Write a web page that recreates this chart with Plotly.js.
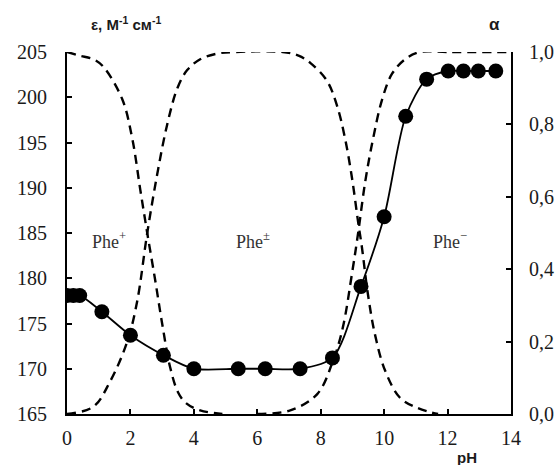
<!DOCTYPE html>
<html>
<head>
<meta charset="utf-8">
<script src="https://cdn.plot.ly/plotly-3.0.1.min.js"></script>
<style>html,body{margin:0;padding:0;background:#fff;}#chart{width:559px;height:465px;}</style>
</head>
<body>
<div id="chart"></div>
<script>
// Measured extinction coefficient vs pH
const pH = [0, 0.2, 0.4, 1.1, 2.0, 3.04, 4.0, 5.4, 6.25, 7.35, 8.37, 9.27, 10.0, 10.68, 11.34, 12.02, 12.5, 12.97, 13.52];
const epsilon = [178.1, 178.1, 178.1, 176.3, 173.7, 171.5, 170.0, 170.0, 170.0, 170.0, 171.2, 179.1, 186.8, 197.9, 202.0, 202.9, 202.9, 202.9, 202.9];

// Fractions of species
const pHPlus = [0, 0.4, 0.83, 1.14, 1.74, 2.06, 2.31, 2.53, 2.78, 3.0, 3.25, 3.5, 3.75, 4.2, 4.9];
const alphaPlus = [1.0, 0.99, 0.98, 0.96, 0.87, 0.76, 0.62, 0.5, 0.37, 0.25, 0.13, 0.06, 0.03, 0.01, 0.0];

const pHZwit = [0, 0.83, 1.36, 1.9, 2.21, 2.53, 2.84, 3.16, 3.48, 3.79, 4.2, 4.7, 5.3, 6.8, 7.3, 7.67, 8.2, 8.52, 8.77, 8.99, 9.18, 9.3, 9.49, 9.71, 10.03, 10.5, 11.04, 11.7];
const alphaZwit = [0.0, 0.02, 0.09, 0.2, 0.31, 0.5, 0.66, 0.8, 0.9, 0.95, 0.98, 0.995, 1.0, 1.0, 0.99, 0.97, 0.92, 0.85, 0.76, 0.65, 0.53, 0.46, 0.33, 0.22, 0.12, 0.045, 0.017, 0.0];

const pHMinus = [6.0, 7.04, 7.89, 8.4, 8.7, 8.99, 9.18, 9.4, 9.65, 9.94, 10.25, 10.66, 11.13, 12.0, 14.0];
const alphaMinus = [0.0, 0.01, 0.055, 0.15, 0.24, 0.39, 0.5, 0.64, 0.76, 0.87, 0.94, 0.98, 1.0, 1.0, 1.0];

const xTicks = [0, 2, 4, 6, 8, 10, 12, 14];
const yTicks = [165, 170, 175, 180, 185, 190, 195, 200, 205];
const y2Ticks = [0, 0.2, 0.4, 0.6, 0.8, 1.0];
const y2TickText = ['0,0', '0,2', '0,4', '0,6', '0,8', '1,0'];

const dashStyle = {color: '#000', width: 2.4, dash: '9px,6px', shape: 'spline', smoothing: 1};

const traces = [
  {x: pHPlus, y: alphaPlus, yaxis: 'y2', mode: 'lines', line: dashStyle, hoverinfo: 'skip'},
  {x: pHZwit, y: alphaZwit, yaxis: 'y2', mode: 'lines', line: dashStyle, hoverinfo: 'skip'},
  {x: pHMinus, y: alphaMinus, yaxis: 'y2', mode: 'lines', line: dashStyle, hoverinfo: 'skip'},
  {x: pH, y: epsilon, yaxis: 'y', mode: 'lines+markers',
   line: {color: '#000', width: 1.8, shape: 'spline', smoothing: 0.8},
   marker: {color: '#000', size: 15}}
];

const serif = '"Liberation Serif", "Times New Roman", serif';
const sans = '"Liberation Sans", Arial, sans-serif';

const layout = {
  width: 559, height: 465,
  margin: {l: 67, r: 48, t: 52, b: 51},
  paper_bgcolor: '#fff', plot_bgcolor: '#fff',
  showlegend: false,
  font: {family: serif, color: '#1a1a1a', size: 20},
  xaxis: {
    range: [0, 14], tickvals: xTicks, ticks: 'inside', ticklen: 5, tickwidth: 2, tickcolor: '#000',
    showline: true, linewidth: 2, linecolor: '#000', showgrid: false, zeroline: false,
    ticklabelstandoff: 5, tickfont: {family: serif, size: 20, color: '#1a1a1a'}
  },
  yaxis: {
    range: [165, 205], tickvals: yTicks, ticks: 'inside', ticklen: 5, tickwidth: 2, tickcolor: '#000',
    showline: true, linewidth: 2, linecolor: '#000', showgrid: false, zeroline: false,
    ticklabelstandoff: 14, tickfont: {family: serif, size: 20, color: '#1a1a1a'}
  },
  yaxis2: {
    range: [0, 1], overlaying: 'y', side: 'right', tickvals: y2Ticks, ticktext: y2TickText,
    ticks: 'inside', ticklen: 5, tickwidth: 2, tickcolor: '#000',
    showline: true, linewidth: 2, linecolor: '#000', showgrid: false, zeroline: false,
    ticklabelstandoff: 12, tickfont: {family: serif, size: 20, color: '#1a1a1a'}
  },
  annotations: [
    {text: '<b>ε, M<sup>-1</sup> cм<sup>-1</sup></b>', xref: 'paper', yref: 'paper', x: 0.133, y: 1.08,
     xanchor: 'center', yanchor: 'middle', showarrow: false, font: {family: sans, size: 15, color: '#1a1a1a'}},
    {text: '<b>α</b>', xref: 'paper', yref: 'paper', x: 0.963, y: 1.075,
     xanchor: 'center', yanchor: 'middle', showarrow: false, font: {family: sans, size: 17, color: '#1a1a1a'}},
    {text: '<b>pH</b>', xref: 'paper', yref: 'paper', x: 0.9, y: -0.12,
     xanchor: 'center', yanchor: 'middle', showarrow: false, font: {family: sans, size: 15, color: '#1a1a1a'}},
    {text: 'Phe<sup>+</sup>', xref: 'x', yref: 'y2', x: 1.32, y: 0.48, xanchor: 'center', yanchor: 'middle',
     showarrow: false, font: {family: serif, size: 18, color: '#333'}},
    {text: 'Phe<sup>±</sup>', xref: 'x', yref: 'y2', x: 5.87, y: 0.48, xanchor: 'center', yanchor: 'middle',
     showarrow: false, font: {family: serif, size: 18, color: '#333'}},
    {text: 'Phe<sup>−</sup>', xref: 'x', yref: 'y2', x: 12.08, y: 0.48, xanchor: 'center', yanchor: 'middle',
     showarrow: false, font: {family: serif, size: 18, color: '#333'}}
  ]
};

Plotly.newPlot('chart', traces, layout, {displayModeBar: false, staticPlot: true});
</script>
</body>
</html>
